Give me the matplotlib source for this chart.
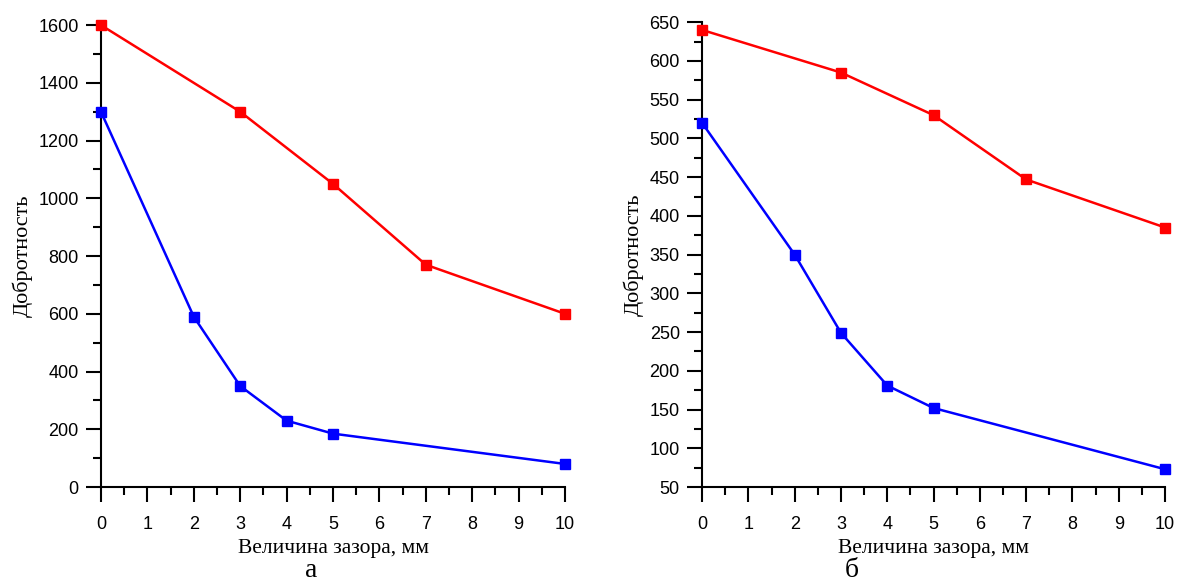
import numpy as np
import matplotlib
matplotlib.use("Agg")
import matplotlib.pyplot as plt
from matplotlib.ticker import MultipleLocator

# ── Data ────────────────────────────────────────────────────────────────
gap_red = [0, 3, 5, 7, 10]
gap_blue = [0, 2, 3, 4, 5, 10]

q_red_a = [1600, 1300, 1050, 770, 600]
q_blue_a = [1300, 590, 350, 230, 185, 80]

q_red_b = [640, 585, 530, 447, 385]
q_blue_b = [520, 350, 249, 181, 152, 73]

x_ticks = [0, 1, 2, 3, 4, 5, 6, 7, 8, 9, 10]

SERIF = ["Liberation Serif", "DejaVu Serif"]
SANS = ["Liberation Sans", "DejaVu Sans"]

fig = plt.figure(figsize=(11.78, 5.84), dpi=100, facecolor="white")


def setup_axes(ax, ylim, ymajor, caption, cap_x):
    for side in ("top", "right"):
        ax.spines[side].set_visible(False)
    for side in ("left", "bottom"):
        ax.spines[side].set_linewidth(1.5)
    ax.set_xlim(0, 10)
    ax.set_ylim(*ylim)
    ax.set_xticks(x_ticks)
    ax.xaxis.set_minor_locator(MultipleLocator(0.5))
    ax.yaxis.set_major_locator(MultipleLocator(ymajor))
    ax.yaxis.set_minor_locator(MultipleLocator(ymajor / 2))
    ax.tick_params(which="major", direction="out", length=11, width=1.5,
                   labelsize=13)
    ax.tick_params(which="minor", direction="out", length=6, width=1.5)
    ax.tick_params(axis="x", which="major", pad=9.5)
    ax.tick_params(axis="y", which="major", pad=5)
    for lab in ax.get_xticklabels() + ax.get_yticklabels():
        lab.set_family(SANS)
    ax.set_ylabel("Добротность", family=SERIF, fontsize=16, labelpad=4)
    ax.set_xlabel("Величина зазора, мм", family=SERIF, fontsize=15.5,
                  labelpad=4.5)
    # caption under the subplot
    fig.text(cap_x, 0.012, caption, ha="center", va="baseline",
             family=SERIF, fontsize=20)


def draw(ax, xs, ys, color):
    ax.plot(xs, ys, "-s", color=color, linewidth=1.8, markersize=6.5,
            clip_on=False, zorder=3)


ax_a = fig.add_axes([0.0857, 0.166, 0.394, 0.791])
draw(ax_a, gap_red, q_red_a, "#ff0000")
draw(ax_a, gap_blue, q_blue_a, "#0000ff")
setup_axes(ax_a, (0, 1600), 200, "а", 0.264)

ax_b = fig.add_axes([0.596, 0.166, 0.393, 0.796])
draw(ax_b, gap_red, q_red_b, "#ff0000")
draw(ax_b, gap_blue, q_blue_b, "#0000ff")
setup_axes(ax_b, (50, 650), 50, "б", 0.7233)

fig.savefig("out.png", dpi=100, facecolor="white")
